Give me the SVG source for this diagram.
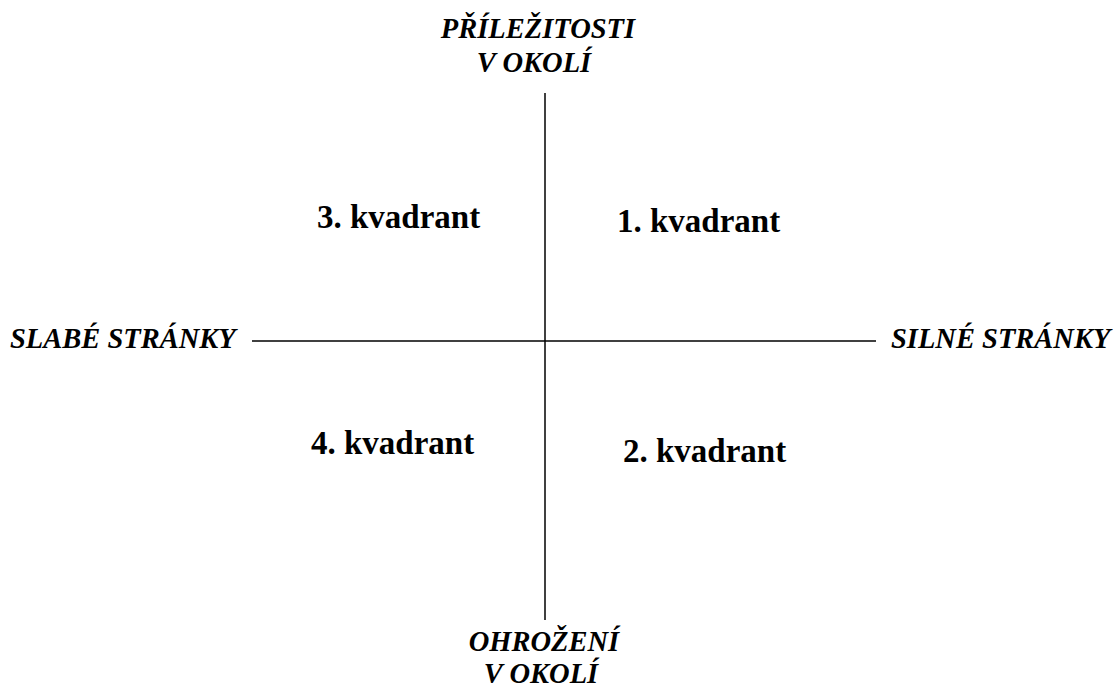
<svg xmlns="http://www.w3.org/2000/svg" width="1116" height="689" viewBox="0 0 1116 689">
<style>
.ax{font-family:"Liberation Serif","Times New Roman",serif;font-weight:bold;font-style:italic;font-size:28.5px;fill:#000}
.q{font-family:"Liberation Serif","Times New Roman",serif;font-weight:bold;font-size:33px;fill:#000}
.ln{stroke:#000;stroke-width:1.5;fill:none}
</style>
<rect width="1116" height="689" fill="#fff"/>
<g id="connectors">
<line class="ln" x1="545" y1="93" x2="545" y2="620"/>
<line class="ln" x1="252" y1="341" x2="876" y2="341"/>
</g>
<g id="top"><text class="ax" x="538" y="38" text-anchor="middle">PŘÍLEŽITOSTI</text><text class="ax" x="534" y="72" text-anchor="middle">V OKOLÍ</text></g>
<g id="bottom"><text class="ax" x="544" y="651" text-anchor="middle">OHROŽENÍ</text><text class="ax" x="541" y="683" text-anchor="middle">V OKOLÍ</text></g>
<g id="left"><text class="ax" x="10" y="348">SLABÉ STRÁNKY</text></g>
<g id="right"><text class="ax" x="891" y="348">SILNÉ STRÁNKY</text></g>
<g id="q3"><text class="q" x="317" y="228">3. kvadrant</text></g>
<g id="q1"><text class="q" x="617" y="232">1. kvadrant</text></g>
<g id="q4"><text class="q" x="311" y="454">4. kvadrant</text></g>
<g id="q2"><text class="q" x="623" y="462">2. kvadrant</text></g>
</svg>
